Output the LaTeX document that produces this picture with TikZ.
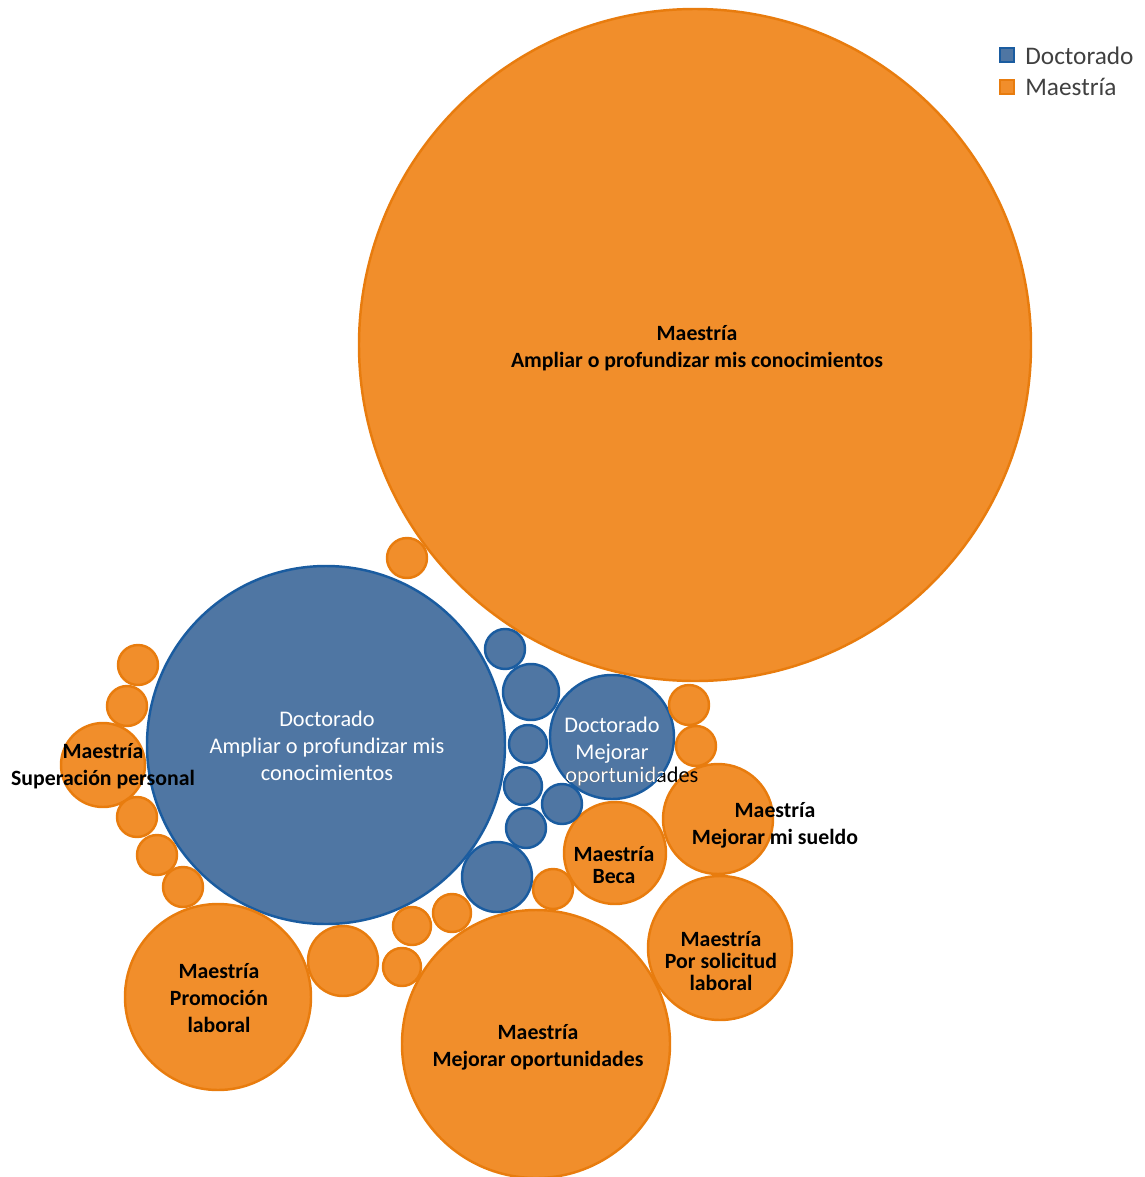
\documentclass[tikz,border=0pt]{standalone}
\usepackage{fontspec}
\setmainfont{Carlito}
\definecolor{maefill}{RGB}{241,142,43}
\definecolor{maeline}{RGB}{232,124,14}
\definecolor{docfill}{RGB}{79,118,163}
\definecolor{docline}{RGB}{26,92,160}
\definecolor{legtext}{RGB}{64,64,64}
\tikzset{
  mae/.style={fill=maefill, draw=maeline, line width=1.4pt},
  doc/.style={fill=docfill, draw=docline, line width=1.4pt},
  labm/.style={font=\bfseries\fontsize{12.4}{15.3}\selectfont, align=center, text=black, inner sep=0pt},
  labt/.style={font=\bfseries\fontsize{12.4}{12.6}\selectfont, align=center, text=black, inner sep=0pt},
  labd/.style={font=\fontsize{12.7}{15.3}\selectfont, align=center, text=white, inner sep=0pt},
  legend/.style={font=\fontsize{14.4}{16}\selectfont, text=legtext, anchor=west, inner sep=0pt}
}
\begin{document}
\begin{tikzpicture}[x=0.02cm, y=-0.02cm]
    \useasboundingbox (0,0) rectangle (1144,1177);
    % big circles
    \filldraw[mae] (695,345) circle (336);
    \filldraw[doc] (326,745) circle (179);
    \filldraw[doc] (612,737) circle (62);
    \filldraw[mae] (718,819) circle (55);
    \filldraw[mae] (615,853) circle (51);
    \filldraw[mae] (720,948) circle (72);
    \filldraw[mae] (536,1044) circle (134);
    \filldraw[mae] (218,997) circle (93);
    \filldraw[mae] (103,765) circle (42);
    % small maestria circles
    \filldraw[mae] (407,558) circle (20);
    \filldraw[mae] (138,665) circle (20);
    \filldraw[mae] (127,706) circle (20);
    \filldraw[mae] (137,817) circle (20);
    \filldraw[mae] (157,855) circle (20);
    \filldraw[mae] (183,887) circle (20);
    \filldraw[mae] (343,961) circle (35);
    \filldraw[mae] (412,926) circle (19);
    \filldraw[mae] (452,913) circle (19);
    \filldraw[mae] (402,967) circle (19);
    \filldraw[mae] (553,889) circle (20);
    \filldraw[mae] (689,705) circle (20);
    \filldraw[mae] (696,746) circle (20);
    % small doctorado circles
    \filldraw[doc] (505,649) circle (20);
    \filldraw[doc] (531,692) circle (28);
    \filldraw[doc] (528,744) circle (19);
    \filldraw[doc] (523,786) circle (19);
    \filldraw[doc] (562,804) circle (20);
    \filldraw[doc] (526,828) circle (20);
    \filldraw[doc] (497,877) circle (35);
    % labels
    \node[labm] (mamp) at (697,348) {Maestría\\Ampliar o profundizar mis conocimientos};
    \node[labd] (damp) at (327,746) {Doctorado\\Ampliar o profundizar mis\\conocimientos};
    \node[labd] (dmej) at (612,740) {Doctorado\\Mejorar};
    \node[labd, text=black] (dmejb) at (632,777) {oportunidades};
    \begin{scope}
      \clip (612,737) circle (62);
      \node[labd] at (632,777) {oportunidades};
    \end{scope}
    \node[labm] (msup) at (103,766) {Maestría\\Superación personal};
    \node[labm] (msue) at (775,825) {Maestría\\Mejorar mi sueldo};
    \node[labt] (mbec) at (614,865) {Maestría\\Beca};
    \node[labt] (msol) at (721,961) {Maestría\\Por solicitud\\laboral};
    \node[labm] (mopo) at (538,1047) {Maestría\\Mejorar oportunidades};
    \node[labm] (mpro) at (219,998) {Maestría\\Promoción\\laboral};
    % legend
    \fill[docfill] (1000,48) rectangle (1014,62);
    \draw[docline, line width=0.6pt] (1000,48) rectangle (1014,62);
    \fill[maefill] (1000,80) rectangle (1014,94);
    \draw[maeline, line width=0.6pt] (1000,80) rectangle (1014,94);
    \node[legend] (ldoc) at (1025,56) {Doctorado};
    \node[legend] (lmae) at (1025,87) {Maestría};
\end{tikzpicture}
\end{document}
